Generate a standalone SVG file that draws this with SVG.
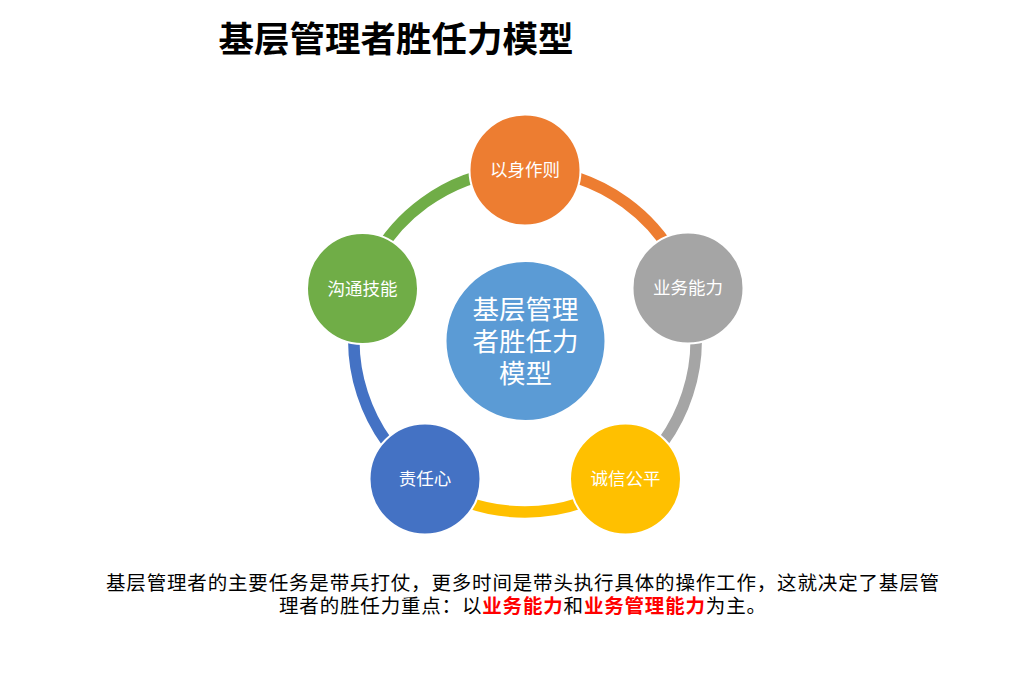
<svg xmlns="http://www.w3.org/2000/svg" width="1012" height="674" viewBox="0 0 1012 674">
<style>
.ring{fill:none;stroke-width:11.5}
.node{stroke:#fff;stroke-width:2}
.lbl{font-family:"Liberation Sans","Noto Sans CJK SC",sans-serif;font-size:17.5px;fill:#fff;text-anchor:middle}
.ctr{font-family:"Liberation Sans","Noto Sans CJK SC",sans-serif;font-size:26.5px;fill:#fff;text-anchor:middle}
.body{font-family:"Liberation Sans","Noto Sans CJK SC",sans-serif;font-size:19.5px;fill:#000;text-anchor:middle}
.red{fill:#ff0000;font-weight:bold}
</style>
<rect width="1012" height="674" fill="#fff"/>
<text x="396" y="52" font-family="Liberation Sans,Noto Sans CJK SC,sans-serif" font-size="35.5" font-weight="bold" text-anchor="middle" fill="#000">基层管理者胜任力模型</text>
<g id="connectors">
<path class="ring" stroke="#ED7D31" d="M525 170 A171 171 0 0 1 687.6 288.2"/>
<path class="ring" stroke="#A5A5A5" d="M687.6 288.2 A171 171 0 0 1 625.5 479.3"/>
<path class="ring" stroke="#FFC000" d="M625.5 479.3 A171 171 0 0 1 424.5 479.3"/>
<path class="ring" stroke="#4472C4" d="M424.5 479.3 A171 171 0 0 1 362.4 288.2"/>
<path class="ring" stroke="#70AD47" d="M362.4 288.2 A171 171 0 0 1 525 170"/>
</g>
<g id="center">
<circle class="node" cx="525.5" cy="341" r="80" fill="#5B9BD5"/>
<text class="ctr" x="525.5" y="319">基层管理</text>
<text class="ctr" x="525.5" y="351">者胜任力</text>
<text class="ctr" x="525.5" y="383">模型</text>
</g>
<g id="n1">
<circle class="node" cx="525" cy="170" r="55.5" fill="#ED7D31"/>
<text class="lbl" x="525" y="176">以身作则</text>
</g>
<g id="n2">
<circle class="node" cx="688" cy="288" r="55.5" fill="#A5A5A5"/>
<text class="lbl" x="688" y="294">业务能力</text>
</g>
<g id="n3">
<circle class="node" cx="625.5" cy="479" r="55.5" fill="#FFC000"/>
<text class="lbl" x="625.5" y="485">诚信公平</text>
</g>
<g id="n4">
<circle class="node" cx="425" cy="479" r="55.5" fill="#4472C4"/>
<text class="lbl" x="425" y="485">责任心</text>
</g>
<g id="n5">
<circle class="node" cx="362.5" cy="288.5" r="55.5" fill="#70AD47"/>
<text class="lbl" x="362.5" y="294.5">沟通技能</text>
</g>
<text class="body" x="522.5" y="590" textLength="833" lengthAdjust="spacing">基层管理者的主要任务是带兵打仗，更多时间是带头执行具体的操作工作，这就决定了基层管</text>
<text class="body" x="522.5" y="613" textLength="487" lengthAdjust="spacing">理者的胜任力重点：以<tspan class="red">业务能力</tspan>和<tspan class="red">业务管理能力</tspan>为主。</text>
</svg>
